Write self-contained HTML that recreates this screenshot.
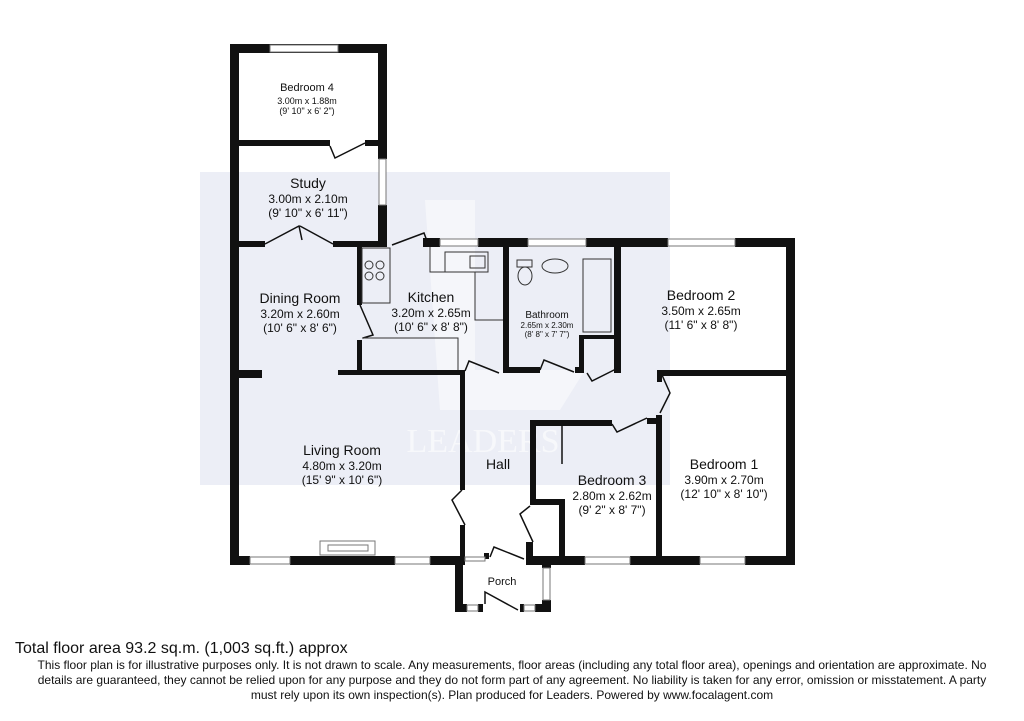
<!DOCTYPE html>
<html><head><style>
body{margin:0;background:#fff;width:1024px;height:716px;overflow:hidden;font-family:"Liberation Sans",Arial,sans-serif}
</style></head><body>
<svg width="1024" height="716" viewBox="0 0 1024 716" xmlns="http://www.w3.org/2000/svg" font-family="Liberation Sans, Arial, sans-serif">
<rect x="200" y="172" width="470" height="313" fill="#eceef6"/>
<path d="M425 200 h50 v170 h110 l-25 40 h-120 z" fill="#f5f6fa"/>
<text x="483" y="452" font-size="34" fill="#f7f8fb" text-anchor="middle" font-family="Liberation Serif, serif">LEADERS</text>
<g fill="#111">
<rect x="230" y="44" width="157" height="9"/>
<rect x="230" y="44" width="9" height="521"/>
<rect x="378" y="44" width="9" height="115"/>
<rect x="378" y="205" width="9" height="42"/>
<rect x="238" y="140" width="92" height="6"/>
<rect x="365" y="140" width="13" height="6"/>
<rect x="238" y="241" width="27" height="6"/>
<rect x="333" y="241" width="45" height="6"/>
<rect x="423" y="238" width="17" height="9"/>
<rect x="478" y="238" width="50" height="9"/>
<rect x="586" y="238" width="82" height="9"/>
<rect x="735" y="238" width="60" height="9"/>
<rect x="786" y="238" width="9" height="327"/>
<rect x="357" y="247" width="5" height="58"/>
<rect x="357" y="340" width="5" height="30"/>
<rect x="238" y="370" width="24" height="8"/>
<rect x="338" y="370" width="127" height="5"/>
<rect x="460" y="370" width="5" height="120"/>
<rect x="460" y="525" width="5" height="32"/>
<rect x="503" y="247" width="6" height="126"/>
<rect x="503" y="367" width="37" height="6"/>
<rect x="575" y="367" width="8" height="6"/>
<rect x="579" y="335" width="5" height="38"/>
<rect x="579" y="335" width="36" height="4"/>
<rect x="614" y="247" width="7" height="126"/>
<rect x="657" y="370" width="138" height="6"/>
<rect x="657" y="370" width="5" height="12"/>
<rect x="656" y="415" width="6" height="150"/>
<rect x="530" y="420" width="82" height="6"/>
<rect x="647" y="418" width="12" height="6"/>
<rect x="530" y="420" width="6" height="84"/>
<rect x="530" y="499" width="34" height="6"/>
<rect x="559" y="499" width="6" height="58"/>
<rect x="526" y="542" width="7" height="18"/>
<rect x="230" y="556" width="20" height="9"/>
<rect x="290" y="556" width="105" height="9"/>
<rect x="430" y="556" width="35" height="9"/>
<rect x="526" y="556" width="59" height="9"/>
<rect x="630" y="556" width="70" height="9"/>
<rect x="745" y="556" width="50" height="9"/>
<rect x="455" y="556" width="8" height="56"/>
<rect x="542" y="556" width="9" height="12"/>
<rect x="542" y="600" width="9" height="12"/>
<rect x="455" y="604" width="12" height="8"/>
<rect x="478" y="604" width="5" height="8"/>
<rect x="520" y="604" width="4" height="8"/>
<rect x="535" y="604" width="16" height="8"/>
<rect x="484" y="553" width="5" height="6"/>
</g>
<g fill="#fff" stroke="#777" stroke-width="1">
<rect x="270" y="45" width="68" height="7"/>
<rect x="379" y="159" width="7" height="46"/>
<rect x="440" y="239" width="38" height="7"/>
<rect x="528" y="239" width="58" height="7"/>
<rect x="668" y="239" width="67" height="7"/>
<rect x="250" y="557" width="40" height="7"/>
<rect x="395" y="557" width="35" height="7"/>
<rect x="585" y="557" width="45" height="7"/>
<rect x="700" y="557" width="45" height="7"/>
<rect x="543" y="568" width="7" height="32"/>
<rect x="467" y="605" width="11" height="6"/>
<rect x="524" y="605" width="11" height="6"/>
<rect x="465" y="557" width="20" height="4"/>
<rect x="320" y="541" width="55" height="14"/>
<rect x="328" y="545" width="40" height="6"/>
</g>
<g fill="none" stroke="#111" stroke-width="1.5">
<path d="M330 146 l5 12 l30 -15"/>
<path d="M265 244 l34 -18 l3 14 M333 244 l-33 -18"/>
<path d="M392 245 l32 -12 l3 8"/>
<path d="M360 305 l13 30 l-10 3"/>
<path d="M465 371 l4 -10 l30 12"/>
<path d="M540 370 l4 -10 l30 12"/>
<path d="M587 373 l5 8 l28 -14"/>
<path d="M662 375 l8 18 l-10 20"/>
<path d="M612 424 l5 8 l30 -14"/>
<path d="M462 490 l-10 10 l13 25"/>
<path d="M530 506 l-10 8 l13 28"/>
<path d="M490 557 l4 -10 l30 12"/>
<path d="M485 604 l0 -12 l33 18"/>
<path d="M562 426 v38"/>
</g>
<g fill="none" stroke="#333" stroke-width="1">
<rect x="362" y="248" width="28" height="55"/>
<circle cx="369" cy="265" r="4"/><circle cx="380" cy="265" r="4"/><circle cx="369" cy="276" r="4"/><circle cx="380" cy="276" r="4"/>
<path d="M430 247 v25 h45 v48 h28"/>
<rect x="445" y="252" width="43" height="20"/><rect x="470" y="256" width="15" height="12"/>
<path d="M362 338 h96 v32"/>
<rect x="583" y="259" width="28" height="73"/>
<ellipse cx="525" cy="276" rx="7" ry="9"/><rect x="517" y="260" width="15" height="7"/>
<ellipse cx="555" cy="266" rx="13" ry="7"/>
</g>
<g text-anchor="middle" fill="#111">
<text x="307" y="91" font-size="11">Bedroom 4</text>
<text x="307" y="104" font-size="9">3.00m x 1.88m</text>
<text x="307" y="114" font-size="9">(9' 10" x 6' 2")</text>
<text x="308" y="188" font-size="14">Study</text>
<text x="308" y="203" font-size="12">3.00m x 2.10m</text>
<text x="308" y="217" font-size="12">(9' 10" x 6' 11")</text>
<text x="300" y="303" font-size="14">Dining Room</text>
<text x="300" y="318" font-size="12">3.20m x 2.60m</text>
<text x="300" y="332" font-size="12">(10' 6" x 8' 6")</text>
<text x="431" y="302" font-size="14">Kitchen</text>
<text x="431" y="317" font-size="12">3.20m x 2.65m</text>
<text x="431" y="331" font-size="12">(10' 6" x 8' 8")</text>
<text x="547" y="318" font-size="10">Bathroom</text>
<text x="547" y="328" font-size="8">2.65m x 2.30m</text>
<text x="547" y="337" font-size="8">(8' 8" x 7' 7")</text>
<text x="701" y="300" font-size="14">Bedroom 2</text>
<text x="701" y="315" font-size="12">3.50m x 2.65m</text>
<text x="701" y="329" font-size="12">(11' 6" x 8' 8")</text>
<text x="342" y="455" font-size="14">Living Room</text>
<text x="342" y="470" font-size="12">4.80m x 3.20m</text>
<text x="342" y="484" font-size="12">(15' 9" x 10' 6")</text>
<text x="498" y="469" font-size="14">Hall</text>
<text x="612" y="485" font-size="14">Bedroom 3</text>
<text x="612" y="500" font-size="12">2.80m x 2.62m</text>
<text x="612" y="514" font-size="12">(9' 2" x 8' 7")</text>
<text x="724" y="469" font-size="14">Bedroom 1</text>
<text x="724" y="484" font-size="12">3.90m x 2.70m</text>
<text x="724" y="498" font-size="12">(12' 10" x 8' 10")</text>
<text x="502" y="585" font-size="11">Porch</text>
</g>
<text x="15" y="653" font-size="16" fill="#111">Total floor area 93.2 sq.m. (1,003 sq.ft.) approx</text>
<g text-anchor="middle" font-size="12" fill="#111">
<text x="512" y="669">This floor plan is for illustrative purposes only. It is not drawn to scale. Any measurements, floor areas (including any total floor area), openings and orientation are approximate. No</text>
<text x="512" y="684">details are guaranteed, they cannot be relied upon for any purpose and they do not form part of any agreement. No liability is taken for any error, omission or misstatement. A party</text>
<text x="512" y="699">must rely upon its own inspection(s). Plan produced for Leaders. Powered by www.focalagent.com</text>
</g>
</svg>
</body></html>
